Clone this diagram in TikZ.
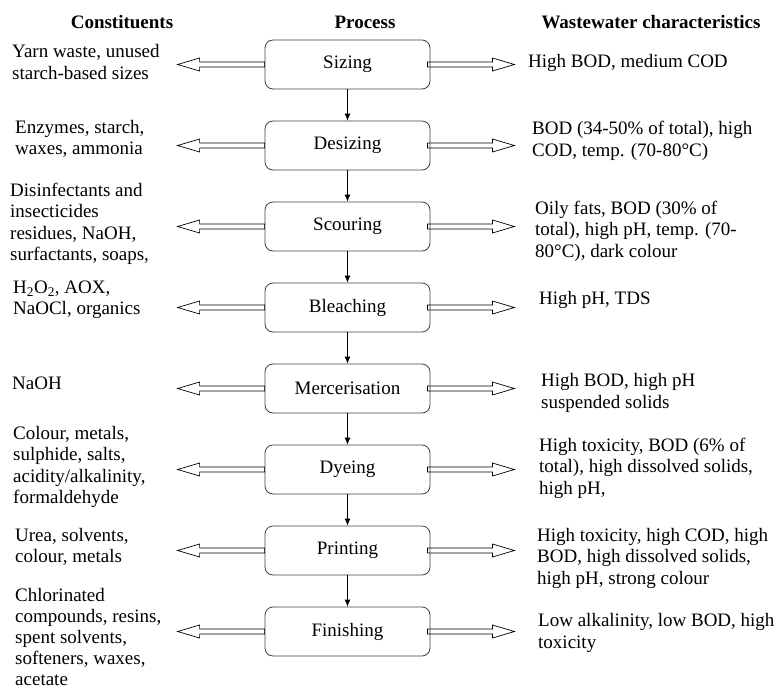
\documentclass[tikz,border=0pt]{standalone}
\usepackage{fontspec}
\setmainfont{Liberation Serif}
\usetikzlibrary{positioning,arrows.meta,calc}

\tikzset{
    proc/.style={draw=black!75, line width=0.8pt, rounded corners=8pt,
                 minimum width=165pt, minimum height=49pt, inner sep=0pt},
    side/.style={anchor=west, align=left, inner sep=0pt},
    head/.style={font=\fontsize{19}{21.5}\selectfont\bfseries, inner sep=0pt},
    down/.style={line width=0.8pt, -{Latex[length=7pt,width=6pt]}},
    hollow/.style={draw=black, line width=0.7pt, to path={
        let \p1=(\tikztostart), \p2=(\tikztotarget),
            \p3=({\x2-22pt*sign(\x2-\x1)},0) in
        (\x1,\y1+2.5pt) -- (\x3,\y1+2.5pt) -- (\x3,\y1+6.5pt) -- (\x2,\y1)
        -- (\x3,\y1-6.5pt) -- (\x3,\y1-2.5pt) -- (\x1,\y1-2.5pt) -- cycle}}
}

\begin{document}
\begin{tikzpicture}[x=1pt,y=1pt,node distance=81pt,on grid,
                    font=\fontsize{19}{21.5}\selectfont]
    \useasboundingbox (0,0) rectangle (782,-691);

    \node[head] (h-cons) at (122,-22) {Constituents};
    \node[head] (h-proc) at (365,-22) {Process};
    \node[head] (h-char) at (651,-22) {Wastewater characteristics};

    \node[proc]                       (sizing)  at (347.5,-64.5) {Sizing};
    \node[proc] [below=of sizing]     (desizing) {Desizing};
    \node[proc] [below=of desizing]   (scouring) {Scouring};
    \node[proc] [below=of scouring]   (bleaching) {Bleaching};
    \node[proc] [below=of bleaching]  (mercer) {Mercerisation};
    \node[proc] [below=of mercer]     (dyeing) {Dyeing};
    \node[proc] [below=of dyeing]     (printing) {Printing};
    \node[proc] [below=of printing]   (finishing) {Finishing};

    \node[side] (c-sizing)    at (12,-62)  {Yarn waste, unused\\starch-based sizes};
    \node[side] (c-desizing)  at (15,-139) {Enzymes, starch,\\waxes, ammonia};
    \node[side] (c-scouring)  at (10,-224) {Disinfectants and\\insecticides\\residues, NaOH,\\surfactants, soaps,};
    \node[side] (c-bleaching) at (13,-300) {H\textsubscript{2}O\textsubscript{2}, AOX,\\NaOCl, organics};
    \node[side] (c-mercer)    at (12,-383) {NaOH};
    \node[side] (c-dyeing)    at (13,-467) {Colour, metals,\\sulphide, salts,\\acidity/alkalinity,\\formaldehyde};
    \node[side] (c-printing)  at (15,-547) {Urea, solvents,\\colour, metals};
    \node[side, font=\fontsize{19}{21}\selectfont]
                (c-finishing) at (15,-637) {Chlorinated\\compounds, resins,\\spent solvents,\\softeners, waxes,\\acetate};

    \node[side] (w-sizing)    at (528,-63)  {High BOD, medium COD};
    \node[side] (w-desizing)  at (532,-141) {BOD (34-50\% of total), high\\COD, temp. (70-80°C)};
    \node[side] (w-scouring)  at (535,-231) {Oily fats, BOD (30\% of\\total), high pH, temp. (70-\\80°C), dark colour};
    \node[side] (w-bleaching) at (539,-300) {High pH, TDS};
    \node[side] (w-mercer)    at (541,-393) {High BOD, high pH\\suspended solids};
    \node[side] (w-dyeing)    at (539,-468) {High toxicity, BOD (6\% of\\total), high dissolved solids,\\high pH,};
    \node[side] (w-printing)  at (537,-558) {High toxicity, high COD, high\\BOD, high dissolved solids,\\high pH, strong colour};
    \node[side] (w-finishing) at (538,-633) {Low alkalinity, low BOD, high\\toxicity};

    \foreach \a/\b in {sizing/desizing,desizing/scouring,scouring/bleaching,
                       bleaching/mercer,mercer/dyeing,dyeing/printing,printing/finishing}
        \draw[down] (\a) -- (\b);

    \foreach \s in {sizing,desizing,scouring,bleaching,mercer,dyeing,printing,finishing} {
        \coordinate (\s-in)  at ([xshift=-87pt]\s.west);
        \coordinate (\s-out) at ([xshift=84pt]\s.east);
        \draw[hollow] (\s.west) to (\s-in);
        \draw[hollow] ([xshift=-3pt]\s.east) to (\s-out);
    }
\end{tikzpicture}
\end{document}
